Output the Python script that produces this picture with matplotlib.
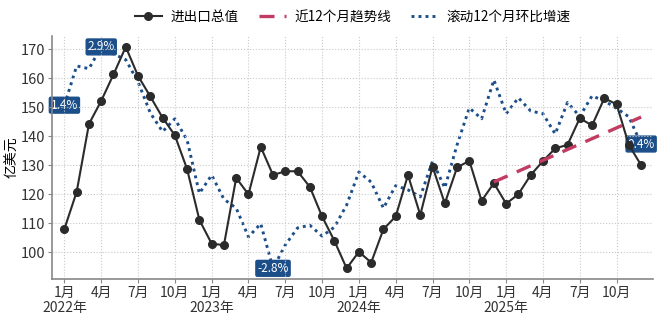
import numpy as np
import matplotlib
matplotlib.use("Agg")
import matplotlib.pyplot as plt

plt.rcParams["font.family"] = ["Noto Sans CJK SC", "DejaVu Sans"]
plt.rcParams["axes.unicode_minus"] = False

# monthly total trade value, Jan 2022 .. Dec 2025 (100 million USD)
trade_total = [
    108.0, 120.8, 144.2, 152.2, 161.3, 170.8, 160.8, 153.7, 146.4, 140.3, 128.6, 111.1,
    102.9, 102.4, 125.6, 119.9, 136.3, 126.6, 127.9, 127.9, 122.5, 112.3, 103.9, 94.4,
    100.1, 96.4, 107.9, 112.3, 126.6, 112.8, 129.5, 116.8, 129.2, 131.5, 117.7, 123.8,
    116.7, 120.0, 126.6, 131.4, 135.8, 137.0, 146.2, 143.7, 153.1, 151.0, 137.0, 130.0,
]

# rolling 12-month growth, month on month (%)
rolling_growth = [
    1.4, 2.41, 2.34, 2.9, 2.72, 2.57, 2.0, 1.2, 0.72, 1.05, 0.5, -0.87,
    -0.40, -1.02, -1.25, -1.99, -1.65, -2.8, -2.2, -1.76, -1.69, -1.97, -1.74, -1.17,
    -0.32, -0.58, -1.25, -0.67, -0.78, -0.96, -0.04, -0.73, 0.38, 1.33, 1.05, 2.05,
    1.18, 1.59, 1.25, 1.18, 0.66, 1.47, 1.11, 1.64, 1.51, 1.32, 1.10, 0.4,
]

# trend line over the last 12 months: start / end values
trend_months = [35, 47]
trend_values = [124.2, 146.6]

years = [2022, 2023, 2024, 2025]
tick_months = [1, 4, 7, 10]

BLUE = "#1c4f8a"
RED = "#c23b62"

x = np.arange(len(trade_total))

fig = plt.figure(figsize=(6.6, 3.23), dpi=100)
ax = fig.add_axes([0.079, 0.135, 0.911, 0.754])
ax2 = ax.twinx()

ax.set_zorder(ax2.get_zorder() + 1)
ax.patch.set_visible(False)

(h1,) = ax.plot(x, trade_total, color="#2b2b2b", lw=1.5, marker="o",
                markersize=5.5, label="进出口总值")
(h2,) = ax.plot(trend_months, trend_values, color=RED, lw=2.4,
                dashes=(4.5, 3), label="近12个月趋势线")
(h3,) = ax2.plot(x, rolling_growth, color=BLUE, lw=2.1,
                 linestyle=(0, (1, 1.4)), label="滚动12个月环比增速")

# label first, last, max and min of the growth series
g = np.array(rolling_growth)
for i in sorted({0, len(g) - 1, int(g.argmax()), int(g.argmin())}):
    ax2.annotate(f"{g[i]:.1f}%", (x[i], g[i]), ha="center", va="center",
                 fontsize=8.5, color="white", zorder=5,
                 bbox=dict(boxstyle="round,pad=0.12", fc=BLUE, ec=BLUE))

ax2.set_yticks([])
for s in ax2.spines.values():
    s.set_visible(False)

ticks = []
labels = []
for yr_i, yr in enumerate(years):
    for m in tick_months:
        ticks.append(yr_i * 12 + m - 1)
        labels.append(f"{m}月\n{yr}年" if m == 1 else f"{m}月")
ax.set_xticks(ticks)
ax.set_xticklabels(labels, fontsize=10, linespacing=1.05)
ax.set_xlim(-1, len(trade_total))
ax.set_yticks([100, 110, 120, 130, 140, 150, 160, 170])
ax.tick_params(axis="y", labelsize=10.5)
ax.set_ylabel("亿美元", fontsize=10, labelpad=1)

ax.grid(True, linestyle=":", color="#c8c8c8", lw=0.8)
ax.spines["top"].set_visible(False)
ax.spines["right"].set_visible(False)
for s in ("left", "bottom"):
    ax.spines[s].set_color("#888888")
    ax.spines[s].set_linewidth(1.2)
ax.tick_params(colors="#333333", length=3, color="#888888", pad=2)

fig.legend(handles=[h1, h2, h3], loc="center", bbox_to_anchor=(0.5345, 0.947),
           ncol=3, frameon=False, fontsize=9.8, columnspacing=1.5,
           handlelength=2.0, handletextpad=0.6)

fig.savefig("out.png", dpi=100)
